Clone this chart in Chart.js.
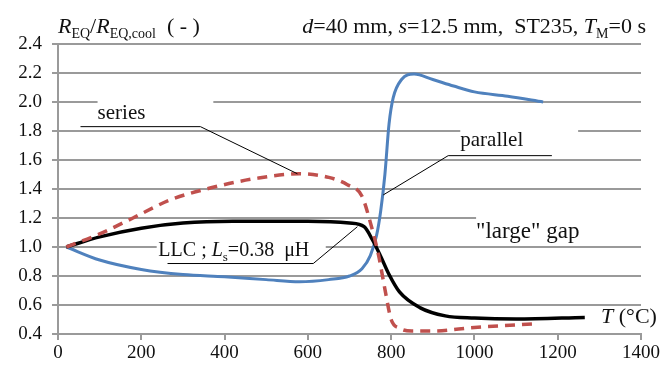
<!DOCTYPE html>
<html>
<head>
<meta charset="utf-8">
<script src="https://cdn.jsdelivr.net/npm/chart.js@4"></script>
<style>
  html, body { margin: 0; padding: 0; background: #fff; }
  #wrap { width: 662px; height: 367px; }
</style>
</head>
<body>
<div id="wrap"><canvas id="myChart"></canvas></div>
<script>
// temperatures (°C) and R_EQ/R_EQ,cool
const parallelT = [20, 100, 200, 300, 400, 500, 580, 650, 700, 730, 750, 765, 775, 785, 795, 805, 825, 855, 900, 950, 1000, 1080, 1165];
const parallelR = [1.0, 0.91, 0.845, 0.81, 0.795, 0.775, 0.76, 0.775, 0.80, 0.85, 0.94, 1.08, 1.25, 1.50, 1.85, 2.03, 2.155, 2.193, 2.155, 2.11, 2.07, 2.04, 2.0];

const seriesT = [20, 100, 180, 270, 370, 480, 580, 650, 695, 730, 750, 770, 785, 800, 820, 850, 900, 1000, 1145];
const seriesR = [1.0, 1.09, 1.2, 1.325, 1.41, 1.475, 1.505, 1.48, 1.43, 1.35, 1.17, 0.94, 0.71, 0.5, 0.44, 0.42, 0.42, 0.445, 0.47];

const llcT = [20, 100, 200, 300, 420, 600, 700, 735, 755, 775, 795, 820, 870, 930, 1000, 1100, 1265];
const llcR = [1.0, 1.07, 1.13, 1.165, 1.177, 1.177, 1.165, 1.14, 1.05, 0.935, 0.81, 0.69, 0.58, 0.525, 0.51, 0.503, 0.514];

const xTicks = [0, 200, 400, 600, 800, 1000, 1200, 1400];
const yTicks = [0.4, 0.6, 0.8, 1.0, 1.2, 1.4, 1.6, 1.8, 2.0, 2.2, 2.4];

const SERIF = "Liberation Serif, DejaVu Serif, serif";
Chart.defaults.font.family = SERIF;

function pts(xs, ys) {
  return xs.map((x, i) => ({ x: x, y: ys[i] }));
}

// draw text made of runs, some italic, some subscript
function drawRuns(ctx, runs, x, y, size, align) {
  const fontOf = (r) => (r.italic ? "italic " : "") + Math.round(r.sub ? size * 0.65 : size) + "px " + SERIF;
  let total = 0;
  runs.forEach((r) => { ctx.font = fontOf(r); total += ctx.measureText(r.t).width; });
  let cx = align === "right" ? x - total : x;
  ctx.textAlign = "left";
  ctx.textBaseline = "alphabetic";
  runs.forEach((r) => {
    ctx.font = fontOf(r);
    ctx.fillText(r.t, cx, r.sub ? y + size * 0.22 : y);
    cx += ctx.measureText(r.t).width;
  });
}

const labelsPlugin = {
  id: "labels",
  beforeDatasetsDraw(chart) {
    const { ctx } = chart;
    const sx = chart.scales.x, sy = chart.scales.y;
    const box = (t0, t1, v0, v1) => {
      const x0 = sx.getPixelForValue(t0), x1 = sx.getPixelForValue(t1);
      const y0 = sy.getPixelForValue(v0), y1 = sy.getPixelForValue(v1);
      ctx.fillRect(x0, y0, x1 - x0, y1 - y0);
    };
    ctx.save();
    ctx.fillStyle = "#fff";
    box(95, 373, 2.05, 1.85);
    box(966, 1249, 1.843, 1.671);
    box(1004, 1420, 1.257, 1.03);
    box(237, 643, 1.078, 0.9);
    ctx.restore();
  },
  afterDatasetsDraw(chart) {
    const { ctx, chartArea } = chart;
    const sx = chart.scales.x, sy = chart.scales.y;
    const X = (t) => sx.getPixelForValue(t);
    const Y = (v) => sy.getPixelForValue(v);
    ctx.save();
    ctx.fillStyle = "#111";
    ctx.strokeStyle = "#000";
    ctx.lineWidth = 1;

    // callout lines
    const poly = (p) => {
      ctx.beginPath();
      ctx.moveTo(X(p[0][0]), Y(p[0][1]));
      for (let i = 1; i < p.length; i++) ctx.lineTo(X(p[i][0]), Y(p[i][1]));
      ctx.stroke();
    };
    poly([[54, 1.83], [342, 1.83], [575, 1.505]]);
    poly([[1186, 1.63], [937, 1.63], [781, 1.359]]);
    poly([[263, 0.886], [613, 0.886], [719, 1.14]]);

    drawRuns(ctx, [{ t: "series" }], X(95), Y(1.885), 21);
    drawRuns(ctx, [{ t: "parallel" }], X(966), Y(1.699), 21);
    drawRuns(ctx, [{ t: "\"large\" gap" }], X(1004), Y(1.064), 23);
    drawRuns(ctx, [{ t: "LLC ; " }, { t: "L", italic: true }, { t: "s", sub: true }, { t: "=0.38  μH" }], X(241), Y(0.936), 20);
    drawRuns(ctx, [{ t: "T", italic: true }, { t: " (°C)" }], X(1304), Y(0.478), 22);

    // header texts
    const top = chartArea.top - 11;
    drawRuns(ctx, [
      { t: "R", italic: true }, { t: "EQ", sub: true }, { t: "/" },
      { t: "R", italic: true }, { t: "EQ,cool", sub: true }, { t: "  ( - )" }
    ], chartArea.left, top, 22);
    drawRuns(ctx, [
      { t: "d", italic: true }, { t: "=40 mm, " },
      { t: "s", italic: true }, { t: "=12.5 mm,  ST235, " },
      { t: "T", italic: true }, { t: "M", sub: true }, { t: "=0 s" }
    ], chartArea.right + 5, top, 22, "right");
    ctx.restore();
  }
};

const ctx = document.getElementById("myChart");
new Chart(ctx, {
  type: "line",
  data: {
    datasets: [
      {
        label: "series",
        data: pts(seriesT, seriesR),
        borderColor: "#C0504D",
        borderWidth: 3.5,
        borderDash: [10, 7],
        pointRadius: 0,
        cubicInterpolationMode: "monotone",
        fill: false,
      },
      {
        label: "LLC",
        data: pts(llcT, llcR),
        borderColor: "#000000",
        borderWidth: 3.5,
        pointRadius: 0,
        cubicInterpolationMode: "monotone",
        fill: false,
      },
      {
        label: "parallel",
        data: pts(parallelT, parallelR),
        borderColor: "#4F81BD",
        borderWidth: 3,
        pointRadius: 0,
        cubicInterpolationMode: "monotone",
        fill: false,
      },
    ],
  },
  options: {
    responsive: true,
    maintainAspectRatio: false,
    animation: false,
    events: [],
    layout: { padding: { left: 0, right: 21, top: 44, bottom: 0 } },
    plugins: { legend: { display: false }, tooltip: { enabled: false } },
    scales: {
      x: {
        type: "linear",
        min: 0,
        max: 1400,
        afterBuildTicks: (s) => { s.ticks = xTicks.map((v) => ({ value: v })); },
        afterFit: (s) => { s.height = 33; },
        grid: { display: true, drawOnChartArea: false, drawTicks: true, tickLength: 6, color: "#9a9a9a", lineWidth: 2 },
        border: { display: true, color: "#9a9a9a", width: 2 },
        ticks: { color: "#111", font: { family: SERIF, size: 19 }, padding: 2, maxRotation: 0, callback: (v) => String(v) },
      },
      y: {
        type: "linear",
        min: 0.4,
        max: 2.4,
        afterBuildTicks: (s) => { s.ticks = yTicks.map((v) => ({ value: v })); },
        afterFit: (s) => { s.width = 58; },
        grid: { color: "#9a9a9a", lineWidth: 2, tickLength: 6 },
        border: { display: true, color: "#9a9a9a", width: 2 },
        ticks: { color: "#111", font: { family: SERIF, size: 19 }, padding: 10, callback: (v) => v.toFixed(1) },
      },
    },
  },
  plugins: [labelsPlugin],
});
</script>
</body>
</html>
